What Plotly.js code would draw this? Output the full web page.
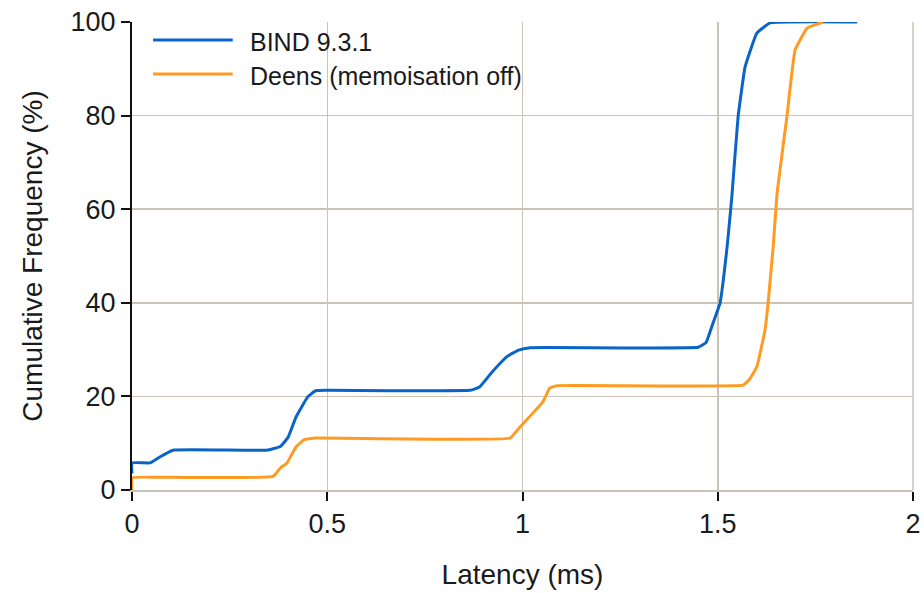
<!DOCTYPE html>
<html>
<head>
<meta charset="utf-8">
<script src="https://cdn.plot.ly/plotly-3.0.1.min.js"></script>
<style>html,body{margin:0;padding:0;background:#fff;}#chart{width:924px;height:593px;}</style>
</head>
<body>
<div id="chart"></div>
<script>
// Series names
const seriesNames = ["BIND 9.3.1", "Deens (memoisation off)"];

// BIND 9.3.1 (latency ms, cumulative %)
const bindX = [0, 0, 0.046, 0.07, 0.105, 0.345, 0.38, 0.40, 0.42, 0.45, 0.47, 0.50, 0.866, 0.89, 0.92, 0.96, 0.99, 1.02, 1.45, 1.47, 1.488, 1.506, 1.524, 1.536, 1.552, 1.57, 1.60, 1.634, 1.857];
const bindY = [3.5, 5.8, 5.8, 7.0, 8.5, 8.5, 9.3, 11.3, 15.6, 19.9, 21.2, 21.3, 21.3, 22.0, 25.0, 28.5, 29.9, 30.4, 30.5, 31.5, 35.7, 40, 52, 62.6, 79.7, 90.4, 97.6, 99.8, 100];

// Deens (memoisation off)
const deensX = [0, 0, 0.1, 0.361, 0.38, 0.397, 0.42, 0.44, 0.47, 0.968, 0.994, 1.052, 1.07, 1.09, 1.565, 1.58, 1.60, 1.621, 1.629, 1.642, 1.652, 1.677, 1.698, 1.729, 1.77];
const deensY = [0, 2.6, 2.7, 2.9, 4.7, 5.8, 9.2, 10.7, 11.1, 11.1, 13.5, 18.8, 21.8, 22.3, 22.4, 23.5, 26.3, 34.2, 40, 52, 63.5, 79.7, 94, 98.7, 100];

// Axis ticks
const xTicks = [0, 0.5, 1, 1.5, 2];
const xTickLabels = ["0", "0.5", "1", "1.5", "2"];
const yTicks = [0, 20, 40, 60, 80, 100];
const yTickLabels = ["0", "20", "40", "60", "80", "100"];

const colors = ["#0a64c8", "#ff9a22"];
const gridColor = "#cbc3b6";
const font = "'Liberation Sans', Arial, Helvetica, sans-serif";

const traces = [
  {x: bindX, y: bindY, name: seriesNames[0], type: "scatter", mode: "lines",
   line: {color: colors[0], width: 3, shape: "spline", smoothing: 0.3}, showlegend: false},
  {x: deensX, y: deensY, name: seriesNames[1], type: "scatter", mode: "lines",
   line: {color: colors[1], width: 3, shape: "spline", smoothing: 0.3}, showlegend: false}
];

// Manual legend (line samples + labels) in paper coordinates
const legY = [0.9615, 0.889];
const shapes = seriesNames.map((n, i) => ({
  type: "line", xref: "paper", yref: "paper",
  x0: 0.027, x1: 0.129, y0: legY[i], y1: legY[i],
  line: {color: colors[i], width: 3}
}));
// right plot border (grid-coloured)
shapes.push({type: "line", xref: "paper", yref: "paper", x0: 1, x1: 1, y0: 0, y1: 1,
  line: {color: gridColor, width: 1.5}, layer: "above"});
const annotations = seriesNames.map((n, i) => ({
  xref: "paper", yref: "paper", x: 0.148, y: legY[i] - 0.004,
  xanchor: "left", yanchor: "middle", text: n, showarrow: false,
  font: {family: font, size: 25, color: "#1a1a1a"}
}));

const layout = {
  width: 924, height: 593,
  margin: {l: 132, r: 11, t: 22, b: 103},
  paper_bgcolor: "#fff", plot_bgcolor: "#fff",
  font: {family: font, color: "#1a1a1a"},
  showlegend: false,
  xaxis: {
    range: [0, 2], tickvals: xTicks, ticktext: xTickLabels,
    showgrid: true, gridcolor: gridColor, gridwidth: 1.5,
    zeroline: false, showline: true, linecolor: gridColor, linewidth: 2,
    ticks: "outside", ticklen: 9, tickwidth: 2, tickcolor: "#111",
    tickfont: {size: 27, family: font, color: "#1a1a1a"},
    title: {text: "Latency (ms)", font: {size: 28, family: font, color: "#1a1a1a"}, standoff: 26},
    mirror: false
  },
  yaxis: {
    range: [0, 100], tickvals: yTicks, ticktext: yTickLabels,
    showgrid: true, gridcolor: gridColor, gridwidth: 1.5,
    zeroline: false, showline: true, linecolor: "#111", linewidth: 2,
    ticks: "outside", ticklen: 9, tickwidth: 2, tickcolor: "#111",
    tickfont: {size: 27, family: font, color: "#1a1a1a"},
    title: {text: "Cumulative Frequency (%)", font: {size: 28, family: font, color: "#1a1a1a"}, standoff: 20}
  },
  shapes: shapes,
  annotations: annotations
};

Plotly.newPlot("chart", traces, layout, {displayModeBar: false, staticPlot: true});
</script>
</body>
</html>
